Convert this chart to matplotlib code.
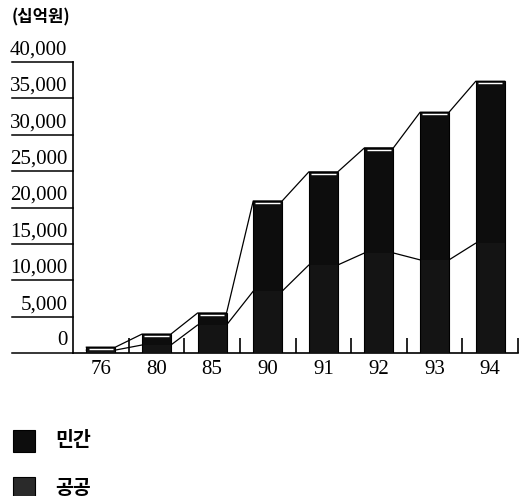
import matplotlib
matplotlib.use("Agg")
import matplotlib.pyplot as plt
import matplotlib.transforms as mtransforms
import numpy as np

# Data (십억원)
years = ['76', '80', '85', '90', '91', '92', '93', '94']
public = [400, 1100, 3850, 8500, 12100, 13750, 12800, 15100]      # 공공 (lower)
private = [400, 1500, 1650, 12400, 12800, 14450, 20300, 22250]    # 민간 (upper)
yticks = [0, 5000, 10000, 15000, 20000, 25000, 30000, 35000, 40000]
ytick_labels = ['0', '5,000', '10,000', '15,000', '20,000', '25,000', '30,000', '35,000', '40,000']

serif = 'Liberation Serif'
kr = ['Noto Sans CJK KR', 'DejaVu Sans']

fig = plt.figure(figsize=(5.23, 4.96), dpi=100)
ax = fig.add_axes([73 / 523, 1 - 353 / 496, 445 / 523, 291 / 496])

x = np.arange(len(years))
w = 0.52
total = np.array(public) + np.array(private)

ax.bar(x, public, width=w, color='#141414', linewidth=0, zorder=3)
ax.bar(x, private, width=w, bottom=public, color='#0d0d0d', linewidth=0, zorder=3)
ax.bar(x, total, width=w, fill=False, edgecolor='black', linewidth=0.8, zorder=4)
# white highlight just under each bar top
ax.hlines(total - 300, x - w / 2 + 0.04, x + w / 2 - 0.04, color='white', linewidth=1, zorder=5)

# connecting lines between bar edges
xs = np.ravel(np.column_stack([x - w / 2, x + w / 2]))
ax.plot(xs, np.repeat(total, 2), color='black', linewidth=0.9, zorder=2)
ax.plot(xs, np.repeat(public, 2), color='black', linewidth=0.9, zorder=2)

ax.set_xlim(-0.5, len(years) - 0.5)
ax.set_ylim(0, 40000)

for s in ['top', 'right']:
    ax.spines[s].set_visible(False)
ax.spines['left'].set_linewidth(1.2)
ax.spines['bottom'].set_linewidth(1.2)

# x labels, no major tick marks; short ticks between categories
ax.set_xticks(x)
ax.set_xticklabels(years, fontfamily=serif, fontsize=15)
ax.tick_params(axis='x', length=0, pad=5)
ax.set_xticks(x + 0.5, minor=True)
ax.tick_params(axis='x', which='minor', direction='in', length=11, width=1.2)

# y axis: long lines to the left with labels sitting above them
ax.set_yticks([])
trans = mtransforms.blended_transform_factory(ax.transAxes, ax.transData)
for v, lab in zip(yticks, ytick_labels):
    ax.plot([-0.137, 0], [v, v], color='black', linewidth=1.1, transform=trans, clip_on=False)
    ax.text(-0.013, v + 350, lab, transform=trans, ha='right', va='bottom',
            fontfamily=serif, fontsize=15)

fig.text(12 / 523, 1 - 17 / 496, '(십억원)', family=kr, fontsize=12, fontweight='bold',
         ha='left', va='center')

# legend
legend_items = [('민간', '#0d0d0d', 441), ('공공', '#2a2a2a', 488)]
for lab, col, yc in legend_items:
    fig.patches.append(plt.Rectangle((13 / 523, 1 - (yc + 11) / 496), 22 / 523, 22 / 496,
                                     transform=fig.transFigure, facecolor=col,
                                     edgecolor='black', linewidth=0.8))
    fig.text(55 / 523, 1 - yc / 496, lab, family=kr, fontsize=14, fontweight='bold',
             ha='left', va='center')

fig.savefig('out.png', dpi=100)
